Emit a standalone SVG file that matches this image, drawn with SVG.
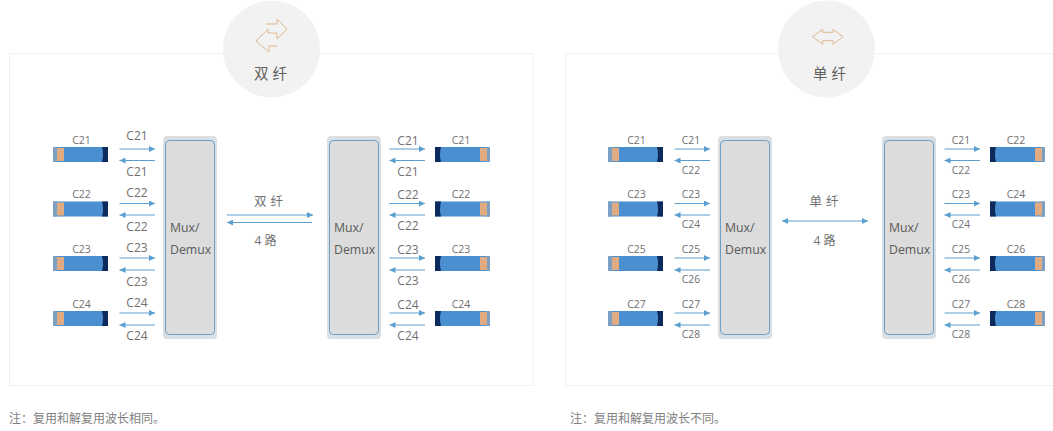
<svg xmlns="http://www.w3.org/2000/svg" width="1053" height="431" viewBox="0 0 1053 431">
<style>
text{font-family:"Open Sans","Noto Sans CJK SC",sans-serif;fill:#707070}
.p{fill:#fff;stroke:#f0f0f0;stroke-width:1}
.c{fill:#f2f2f2}
.o{fill:#d9dfe3}
.i{fill:#dcdcdc;stroke:#6a9fc8;stroke-width:1}
.l{stroke:#5b9fd0;stroke-width:1.2;fill:none}
.m{font-size:12.3px;fill:#5a5a5a}
.a{font-size:12px;text-anchor:middle}
.s{font-size:10.300px;text-anchor:middle}
.t{font-size:10.500px;text-anchor:middle}
.h{font-size:14.500px;text-anchor:middle;fill:#606060;letter-spacing:4px}
.k{font-size:12.500px;text-anchor:middle;letter-spacing:4px}
.q{font-size:12px;text-anchor:middle}
.n{font-size:12px;fill:#808080}
.g{fill:none;stroke:#dcb890;stroke-width:1}
</style>
<defs>
<marker id="ah" markerWidth="7" markerHeight="6" refX="6" refY="3" orient="auto-start-reverse" markerUnits="userSpaceOnUse"><path d="M0 0L6 3L0 6z" fill="#5b9fd0"/></marker>
<g id="txl"><rect width="55" height="15" fill="#4a8fd0"/><rect width="4" height="15" fill="#7c9fc4"/><rect x="4" y="1" width="7" height="13" fill="#e0ab82"/><path d="M49 0H55V15H49Q51 7.500 49 0Z" fill="#0c2a5c"/></g>
<g id="txr"><rect width="55" height="15" fill="#4a8fd0"/><rect x="51" width="4" height="15" fill="#7c9fc4"/><path d="M0 0H6Q4 7.500 6 15H0Z" fill="#0c2a5c"/><rect x="45" y="1" width="7" height="13" fill="#e0ab82"/></g>
</defs>
<rect width="1053" height="431" fill="#fff"/>

<g id="panel-left"><rect class="p" x="9.500" y="53.500" width="523.500" height="332"/></g>
<g id="panel-right"><rect class="p" x="565.500" y="53.500" width="495" height="332"/></g>

<g id="badge-dual">
<circle class="c" cx="271.500" cy="49" r="48.500"/>
<path class="g" d="M266 24H277V19L287 29L277 39V33"/>
<path class="g" d="M277 33H268V29L256 41L269 52V46H277"/>
<text class="h" x="272.500" y="79">双纤</text>
</g>
<g id="badge-single">
<circle class="c" cx="826.500" cy="49" r="48.500"/>
<path class="g" d="M822.700 32.300V29.300L812.700 36.700L822.700 44.300V40.700H833V44.300L843 36.700L833 29.300V32.300Z"/>
<text class="h" x="831.500" y="79">单纤</text>
</g>

<g id="mux-l1"><rect class="o" x="163" y="136" width="54" height="203" rx="4"/><rect class="i" x="165.500" y="140.500" width="49" height="194" rx="4"/><text class="m" x="170" y="232">Mux/</text><text class="m" x="170" y="254">Demux</text></g>
<g id="mux-l2"><rect class="o" x="327" y="136" width="54" height="203" rx="4"/><rect class="i" x="329.500" y="140.500" width="49" height="194" rx="4"/><text class="m" x="334" y="232">Mux/</text><text class="m" x="334" y="254">Demux</text></g>
<g id="mux-r1"><rect class="o" x="718" y="136" width="54" height="203" rx="4"/><rect class="i" x="720.500" y="140.500" width="49" height="194" rx="4"/><text class="m" x="725" y="232">Mux/</text><text class="m" x="725" y="254">Demux</text></g>
<g id="mux-r2"><rect class="o" x="882" y="136" width="54" height="203" rx="4"/><rect class="i" x="884.500" y="140.500" width="49" height="194" rx="4"/><text class="m" x="889" y="232">Mux/</text><text class="m" x="889" y="254">Demux</text></g>

<g id="tx-l1"><use href="#txl" x="53" y="147"/><text class="t" x="81.500" y="144">C21</text></g>
<g id="tx-l2"><use href="#txl" x="53" y="201.500"/><text class="t" x="81.500" y="198">C22</text></g>
<g id="tx-l3"><use href="#txl" x="53" y="256"/><text class="t" x="81.500" y="253">C23</text></g>
<g id="tx-l4"><use href="#txl" x="53" y="311"/><text class="t" x="81.500" y="308">C24</text></g>
<g id="tx-l5"><use href="#txr" x="435" y="147"/><text class="t" x="461" y="144">C21</text></g>
<g id="tx-l6"><use href="#txr" x="435" y="201.500"/><text class="t" x="461" y="198">C22</text></g>
<g id="tx-l7"><use href="#txr" x="435" y="256"/><text class="t" x="461" y="253">C23</text></g>
<g id="tx-l8"><use href="#txr" x="435" y="311"/><text class="t" x="461" y="308">C24</text></g>
<g id="tx-r1"><use href="#txl" x="608" y="147"/><text class="t" x="636.500" y="144">C21</text></g>
<g id="tx-r2"><use href="#txl" x="608" y="201.500"/><text class="t" x="636.500" y="198">C23</text></g>
<g id="tx-r3"><use href="#txl" x="608" y="256"/><text class="t" x="636.500" y="253">C25</text></g>
<g id="tx-r4"><use href="#txl" x="608" y="311"/><text class="t" x="636.500" y="308">C27</text></g>
<g id="tx-r5"><use href="#txr" x="990" y="147"/><text class="t" x="1016" y="144">C22</text></g>
<g id="tx-r6"><use href="#txr" x="990" y="201.500"/><text class="t" x="1016" y="198">C24</text></g>
<g id="tx-r7"><use href="#txr" x="990" y="256"/><text class="t" x="1016" y="253">C26</text></g>
<g id="tx-r8"><use href="#txr" x="990" y="311"/><text class="t" x="1016" y="308">C28</text></g>

<g id="connectors">
<path class="l" marker-end="url(#ah)" d="M119.500 149H155"/><path class="l" marker-end="url(#ah)" d="M155 160.500H119.500"/>
<path class="l" marker-end="url(#ah)" d="M119.500 203.500H155"/><path class="l" marker-end="url(#ah)" d="M155 215H119.500"/>
<path class="l" marker-end="url(#ah)" d="M119.500 258H155"/><path class="l" marker-end="url(#ah)" d="M155 270H119.500"/>
<path class="l" marker-end="url(#ah)" d="M119.500 313H155"/><path class="l" marker-end="url(#ah)" d="M155 325H119.500"/>
<path class="l" marker-end="url(#ah)" d="M389.500 149H425"/><path class="l" marker-end="url(#ah)" d="M425 160.500H389.500"/>
<path class="l" marker-end="url(#ah)" d="M389.500 203.500H425"/><path class="l" marker-end="url(#ah)" d="M425 215H389.500"/>
<path class="l" marker-end="url(#ah)" d="M389.500 258H425"/><path class="l" marker-end="url(#ah)" d="M425 270H389.500"/>
<path class="l" marker-end="url(#ah)" d="M389.500 313H425"/><path class="l" marker-end="url(#ah)" d="M425 325H389.500"/>
<path class="l" marker-end="url(#ah)" d="M674.500 149H710"/><path class="l" marker-end="url(#ah)" d="M710 160.500H674.500"/>
<path class="l" marker-end="url(#ah)" d="M674.500 203.500H710"/><path class="l" marker-end="url(#ah)" d="M710 215H674.500"/>
<path class="l" marker-end="url(#ah)" d="M674.500 258H710"/><path class="l" marker-end="url(#ah)" d="M710 270H674.500"/>
<path class="l" marker-end="url(#ah)" d="M674.500 313H710"/><path class="l" marker-end="url(#ah)" d="M710 325H674.500"/>
<path class="l" marker-end="url(#ah)" d="M944.500 149H980"/><path class="l" marker-end="url(#ah)" d="M980 160.500H944.500"/>
<path class="l" marker-end="url(#ah)" d="M944.500 203.500H980"/><path class="l" marker-end="url(#ah)" d="M980 215H944.500"/>
<path class="l" marker-end="url(#ah)" d="M944.500 258H980"/><path class="l" marker-end="url(#ah)" d="M980 270H944.500"/>
<path class="l" marker-end="url(#ah)" d="M944.500 313H980"/><path class="l" marker-end="url(#ah)" d="M980 325H944.500"/>
<path class="l" marker-end="url(#ah)" d="M227 215H313"/><path class="l" marker-end="url(#ah)" d="M312 222.500H227"/>
<path class="l" marker-start="url(#ah)" marker-end="url(#ah)" d="M782 221H868"/>
</g>

<g id="labels">
<text class="a" x="137" y="140">C21</text><text class="a" x="137" y="176">C21</text>
<text class="a" x="137" y="197">C22</text><text class="a" x="137" y="231">C22</text>
<text class="a" x="137" y="252">C23</text><text class="a" x="137" y="286">C23</text>
<text class="a" x="137" y="307">C24</text><text class="a" x="137" y="340">C24</text>
<text class="a" x="408" y="145">C21</text><text class="a" x="408" y="176">C21</text>
<text class="a" x="408" y="199">C22</text><text class="a" x="408" y="230">C22</text>
<text class="a" x="408" y="254">C23</text><text class="a" x="408" y="285">C23</text>
<text class="a" x="408" y="309">C24</text><text class="a" x="408" y="340">C24</text>
<text class="s" x="691" y="144">C21</text><text class="s" x="691" y="174">C22</text>
<text class="s" x="691" y="198">C23</text><text class="s" x="691" y="228">C24</text>
<text class="s" x="691" y="253">C25</text><text class="s" x="691" y="283">C26</text>
<text class="s" x="691" y="308">C27</text><text class="s" x="691" y="338">C28</text>
<text class="s" x="961" y="144">C21</text><text class="s" x="961" y="174">C22</text>
<text class="s" x="961" y="198">C23</text><text class="s" x="961" y="228">C24</text>
<text class="s" x="961" y="253">C25</text><text class="s" x="961" y="283">C26</text>
<text class="s" x="961" y="308">C27</text><text class="s" x="961" y="338">C28</text>
<text class="k" x="270.500" y="206">双纤</text>
<text class="q" x="265.500" y="245">4 路</text>
<text class="k" x="826" y="206">单纤</text>
<text class="q" x="824.500" y="245">4 路</text>
<text class="n" x="9" y="423">注：复用和解复用波长相同。</text>
<text class="n" x="570" y="423">注：复用和解复用波长不同。</text>
</g>
</svg>
